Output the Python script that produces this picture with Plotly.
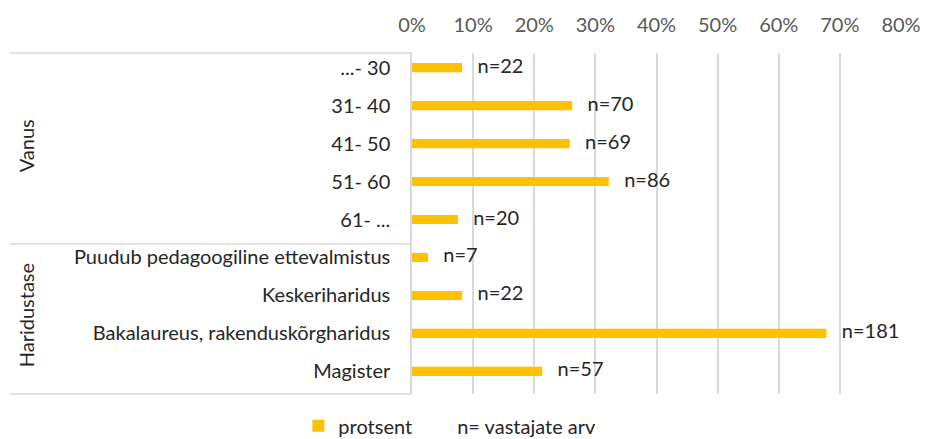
import plotly.graph_objects as go

categories = ["...- 30", "31- 40", "41- 50", "51- 60", "61- ...",
              "Puudub pedagoogiline ettevalmistus", "Keskeriharidus",
              "Bakalaureus, rakenduskõrgharidus", "Magister"]
protsent = [0.082, 0.262, 0.258, 0.322, 0.075, 0.026, 0.082, 0.678, 0.213]
n_labels = ["n=22", "n=70", "n=69", "n=86", "n=20", "n=7", "n=22", "n=181", "n=57"]
groups = ["Vanus", "Haridustase"]
x_ticks = [0, 0.1, 0.2, 0.3, 0.4, 0.5, 0.6, 0.7, 0.8]

FONT = "Lato"
FS = 20
GOLD = "#FFC000"
GRID = "#D9D9D9"
TXT = "#404040"

fig = go.Figure()
fig.add_trace(go.Bar(
    y=categories, x=protsent, orientation="h", name="protsent",
    marker=dict(color=GOLD, line=dict(width=0)), width=0.24,
    hoverinfo="x+y",
))
fig.add_trace(go.Scatter(
    y=categories, x=protsent, mode="text",
    text=["\u00a0\u00a0\u00a0" + s for s in n_labels],
    textposition="middle right", textfont=dict(family=FONT, size=FS, color="#262626"),
    showlegend=False, hoverinfo="skip", cliponaxis=False,
))
fig.add_trace(go.Scatter(
    x=[None], y=[None], mode="markers", name="n= vastajate arv",
    marker=dict(color="rgba(0,0,0,0)", size=1, line=dict(width=0)),
))

# pixel layout
W, H = 925, 439
L, R = 411.7, 901.0
T, B = 53.3, 394.3
pw = R - L
ph = B - T

fig.update_layout(
    width=W, height=H,
    margin=dict(l=L, r=W - R, t=T, b=H - B, pad=0, autoexpand=False),
    paper_bgcolor="white", plot_bgcolor="white",
    font=dict(family=FONT, size=FS, color=TXT),
    showlegend=True,
    legend=dict(orientation="h", x=(298 - L) / pw, xanchor="left",
                y=(B - 426) / ph, yanchor="middle",
                font=dict(family=FONT, size=FS, color="#262626"),
                itemwidth=30, tracegroupgap=0,
                bgcolor="rgba(0,0,0,0)"),
    xaxis=dict(side="top", range=[0, 0.8], tickvals=x_ticks, tickformat=".0%",
               showgrid=True, gridcolor=GRID, gridwidth=1.5, zeroline=False,
               showline=False, ticks="", automargin=False, ticklabelstandoff=16,
               tickfont=dict(family=FONT, size=FS, color="#595959"),
               fixedrange=True),
    yaxis=dict(type="category", categoryorder="array", categoryarray=categories,
               range=[8.596, -0.386], showgrid=False, zeroline=False,
               showline=True, linecolor=GRID, linewidth=1.5, ticks="",
               ticklabelstandoff=16, automargin=False,
               tickfont=dict(family=FONT, size=FS, color="#262626"), fixedrange=True),
)

x_left = (9 - L) / pw
for ypx in [T, 244.0, B]:
    yp = (B - ypx) / ph
    fig.add_shape(type="line", xref="paper", yref="paper", x0=x_left, x1=0,
                  y0=yp, y1=yp, line=dict(color=GRID, width=1.5))

for name, ypx in zip(groups, [146, 316]):
    fig.add_annotation(text=name, xref="paper", yref="paper",
                       x=(25 - L) / pw, y=(B - ypx) / ph, textangle=-90,
                       showarrow=False, font=dict(family=FONT, size=FS, color="#262626"),
                       xanchor="center", yanchor="middle")

fig.write_html("out.html", config={"displayModeBar": False},
               post_script="document.body.style.margin='0';document.body.style.overflow='hidden';")
